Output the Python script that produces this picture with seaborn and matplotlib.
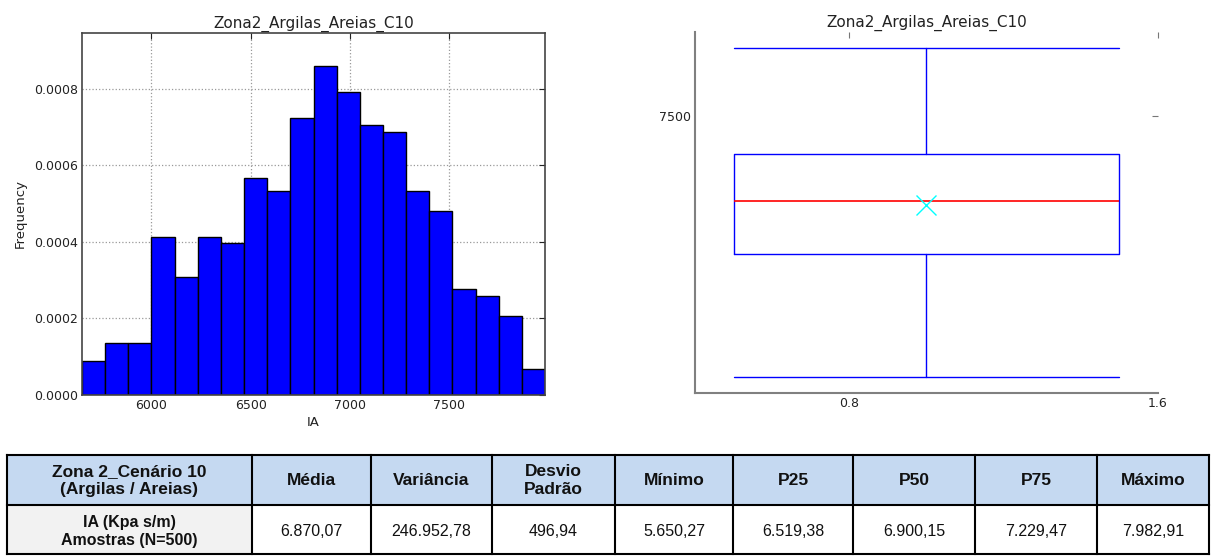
import numpy as np
import pandas as pd
import matplotlib
matplotlib.use("Agg")
import matplotlib.pyplot as plt
from matplotlib.patches import Rectangle
from matplotlib.ticker import FormatStrFormatter
import seaborn as sns

# ---- data -------------------------------------------------------------
chart_title = "Zona2_Argilas_Areias_C10"

# histogram: 20 equal bins between the sample minimum and maximum (density)
density = [0.0000882, 0.000137, 0.000137, 0.000413, 0.000309, 0.000413,
           0.000396, 0.000567, 0.000533, 0.000722, 0.000859, 0.000791,
           0.000705, 0.000687, 0.000533, 0.000481, 0.000276, 0.000259,
           0.000207, 0.000069]
hist_xticks = [6000, 6500, 7000, 7500]
hist_yticks = [0.0, 0.0002, 0.0004, 0.0006, 0.0008]

# summary statistics of IA (Kpa s/m), N = 500
media = 6870.07
variancia = 246952.78
desvio = 496.94
minimo = 5650.27
p25 = 6519.38
p50 = 6900.15
p75 = 7229.47
maximo = 7982.91

box_xticks = [0.8, 1.6]
box_yticks = [7500]

table_corner = "Zona 2_Cenário 10\n(Argilas / Areias)"
table_row_label = "IA (Kpa s/m)\nAmostras (N=500)"
table_headers = ["Média", "Variância", "Desvio\nPadrão", "Mínimo",
                 "P25", "P50", "P75", "Máximo"]
table_values = [media, variancia, desvio, minimo, p25, p50, p75, maximo]


def fmt_br(v):
    s = f"{v:,.2f}"
    return s.replace(",", "#").replace(".", ",").replace("#", ".")


# ---- figure -----------------------------------------------------------
sns.set_theme(style="white")
plt.rcParams["font.family"] = ["DejaVu Sans"]

W, H = 1214, 557
fig = plt.figure(figsize=(W / 100, H / 100), dpi=100)
fig.patch.set_facecolor("white")


def frac_axes(left, top, right, bottom):
    return fig.add_axes([left / W, 1 - bottom / H, (right - left) / W, (bottom - top) / H])


# histogram
ax_h = frac_axes(82, 33, 545, 395)
edges = np.linspace(minimo, maximo, len(density) + 1)
hist_df = pd.DataFrame({"IA": (edges[:-1] + edges[1:]) / 2,
                        "density": density})
sns.histplot(data=hist_df, x="IA", weights="density", bins=list(edges),
             stat="count", color="#0000ff", edgecolor="black",
             linewidth=1.0, alpha=1.0, ax=ax_h)
ax_h.set_xlim(edges[0], edges[-1])
ax_h.set_ylim(0, max(density) * 1.1)
ax_h.set_xticks(hist_xticks)
ax_h.set_yticks(hist_yticks)
ax_h.yaxis.set_major_formatter(FormatStrFormatter("%.4f"))
ax_h.set_axisbelow(True)
ax_h.grid(True, linestyle=":", color="0.6", linewidth=0.9)
ax_h.tick_params(direction="in", top=True, right=True, length=4, width=0.8,
                 labelsize=9, colors="#222222", pad=3)
for sp in ax_h.spines.values():
    sp.set_color("#444444")
    sp.set_linewidth(1.2)
ax_h.set_title(chart_title, fontsize=11, pad=4, color="#222222")
ax_h.set_xlabel("IA", fontsize=9.5, labelpad=3, color="#222222")
ax_h.set_ylabel("Frequency", fontsize=9.5, labelpad=5, color="#222222")

# box plot from the summary statistics
ax_b = frac_axes(695, 32, 1158, 393)
stats = [{"whislo": minimo, "q1": p25, "med": p50, "q3": p75,
          "whishi": maximo, "mean": media, "fliers": []}]
ax_b.bxp(stats, positions=[1.0], widths=1.0, capwidths=1.0, showmeans=True,
         boxprops=dict(color="#0000ff", linewidth=1.0),
         whiskerprops=dict(color="#0000ff", linewidth=1.0, linestyle="-"),
         capprops=dict(color="#0000ff", linewidth=1.0),
         medianprops=dict(color="#ff0000", linewidth=1.2),
         meanprops=dict(marker="x", markeredgecolor="#00ffff",
                        markerfacecolor="none", markersize=15,
                        markeredgewidth=1.0, linestyle="none"))
rng = maximo - minimo
ax_b.set_xlim(0.4, 1.6)
ax_b.set_ylim(minimo - 0.05 * rng, maximo + 0.05 * rng)
ax_b.set_xticks(box_xticks)
ax_b.set_xticklabels([f"{t:.1f}" for t in box_xticks])
ax_b.set_yticks(box_yticks)
ax_b.set_yticklabels([str(t) for t in box_yticks])
ax_b.tick_params(direction="in", top=True, right=True, length=4, width=0.8,
                 labelsize=9, colors="#222222", pad=3)
ax_b.tick_params(which="major", color="#777777")
ax_b.spines["top"].set_visible(False)
ax_b.spines["right"].set_visible(False)
for side in ("left", "bottom"):
    ax_b.spines[side].set_color("#808080")
    ax_b.spines[side].set_linewidth(1.5)
ax_b.grid(False)
ax_b.set_title(chart_title, fontsize=11, pad=4, color="#222222")

# statistics table
ax_t = fig.add_axes([0, 0, 1, 1])
ax_t.set_xlim(0, W)
ax_t.set_ylim(H, 0)
ax_t.axis("off")
ax_t.patch.set_visible(False)

col_x = [7, 252, 371, 492, 615, 733, 853, 975, 1097, 1209]
row_y = [455, 505, 554]
header_bg = "#c5d9f1"
label_bg = "#f2f2f2"

ax_t.add_patch(Rectangle((col_x[0], row_y[0]), col_x[-1] - col_x[0],
                         row_y[1] - row_y[0], facecolor=header_bg,
                         edgecolor="none"))
ax_t.add_patch(Rectangle((col_x[0], row_y[1]), col_x[1] - col_x[0],
                         row_y[2] - row_y[1], facecolor=label_bg,
                         edgecolor="none"))
for x in col_x:
    ax_t.plot([x, x], [row_y[0], row_y[-1]], color="black", lw=1.5,
              solid_capstyle="projecting")
for y in row_y:
    ax_t.plot([col_x[0], col_x[-1]], [y, y], color="black", lw=1.5,
              solid_capstyle="projecting")

tfont = ["Liberation Sans", "DejaVu Sans"]
hy = (row_y[0] + row_y[1]) / 2 + 0.5
dy = (row_y[1] + row_y[2]) / 2 + 2
ax_t.text((col_x[0] + col_x[1]) / 2, hy, table_corner, ha="center",
          va="center", fontsize=12.5, fontweight="bold", family=tfont,
          linespacing=1.3, color="#111111")
ax_t.text((col_x[0] + col_x[1]) / 2, dy, table_row_label, ha="center",
          va="center", fontsize=11.5, fontweight="bold", family=tfont,
          linespacing=1.25, color="#111111")
for i, (name, val) in enumerate(zip(table_headers, table_values)):
    cx = (col_x[i + 1] + col_x[i + 2]) / 2
    ax_t.text(cx, hy, name, ha="center", va="center", fontsize=12.5,
              fontweight="bold", family=tfont, linespacing=1.3,
              color="#111111")
    ax_t.text(cx, dy, fmt_br(val), ha="center", va="center", fontsize=11.5,
              family=tfont, color="#111111")

fig.savefig("out.png", dpi=100, facecolor="white")
